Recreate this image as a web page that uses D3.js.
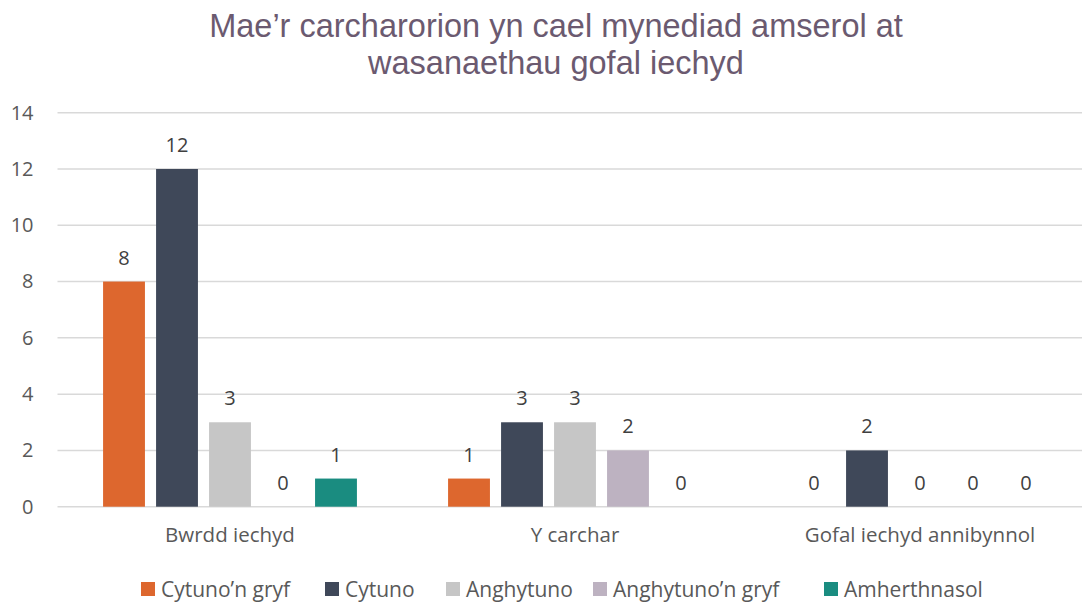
<!DOCTYPE html>
<html>
<head>
<meta charset="utf-8">
<script src="https://cdn.jsdelivr.net/npm/d3@7"></script>
<style>
    body { margin: 0; background: #fff; }
    text { font-family: "Open Sans", sans-serif; }
</style>
</head>
<body>
<svg class="chart"></svg>
<script>
var categories = ["Bwrdd iechyd", "Y carchar", "Gofal iechyd annibynnol"];
var seriesNames = ["Cytuno\u2019n gryf", "Cytuno", "Anghytuno", "Anghytuno\u2019n gryf", "Amherthnasol"];
var seriesColors = ["#dd672e", "#3f4859", "#c6c6c6", "#bdb2c1", "#1a8c80"];
var cytunoGryf = [8, 1, 0];
var cytuno = [12, 3, 2];
var anghytuno = [3, 3, 0];
var anghytunoGryf = [0, 2, 0];
var amherthnasol = [1, 0, 0];
var yTicks = [0, 2, 4, 6, 8, 10, 12, 14];
var titleLines = ["Mae\u2019r carcharorion yn cael mynediad amserol at", "wasanaethau gofal iechyd"];

function show() {
    'use strict';

    var W = 1082, H = 604;
    var margin = {top: 112.7, left: 57.5},
        width = 1035,
        height = 394;

    var svg = d3.select(".chart").attr("width", W).attr("height", H);

    var values = [cytunoGryf, cytuno, anghytuno, anghytunoGryf, amherthnasol];
    // rows per category, one value for each series
    var data = categories.map(function(c, i) {
        return {cat: c, vals: values.map(function(s, j) { return {s: j, v: s[i]}; })};
    });

    var chart = svg.append("g")
        .attr("transform", "translate(" + margin.left + "," + margin.top + ")");

    var x0 = d3.scaleBand().domain(categories).range([0, width]);
    var x1 = d3.scaleBand().domain(d3.range(seriesNames.length))
        .range([0, x0.bandwidth()]).paddingInner(0.21).paddingOuter(0.86);
    var y = d3.scaleLinear().domain([0, 14]).range([height, 0]);

    // gridlines
    chart.selectAll(".grid").data(yTicks).enter().append("line")
        .attr("x1", 0).attr("x2", width)
        .attr("y1", function(d) { return y(d); })
        .attr("y2", function(d) { return y(d); })
        .attr("stroke", "#d9d9d9").attr("stroke-width", 1.5);

    // y axis labels
    var yAxis = d3.axisLeft(y).tickValues(yTicks).tickSize(0).tickPadding(24);
    chart.append("g").call(yAxis)
        .call(function(g) { g.select(".domain").remove(); })
        .selectAll("text")
        .attr("fill", "#595959").style("font-size", "20px")
        .style("font-family", "'Open Sans', sans-serif");

    var groups = chart.selectAll(".grp").data(data).enter().append("g")
        .attr("transform", function(d) { return "translate(" + x0(d.cat) + ",0)"; });

    groups.selectAll("rect").data(function(d) { return d.vals; }).enter().append("rect")
        .attr("x", function(d) { return x1(d.s); })
        .attr("width", x1.bandwidth())
        .attr("y", function(d) { return y(d.v); })
        .attr("height", function(d) { return height - y(d.v); })
        .attr("fill", function(d) { return seriesColors[d.s]; });

    groups.selectAll(".lbl").data(function(d) { return d.vals; }).enter().append("text")
        .attr("x", function(d) { return x1(d.s) + x1.bandwidth() / 2; })
        .attr("y", function(d) { return y(d.v) - 17; })
        .attr("text-anchor", "middle")
        .attr("fill", "#404040").style("font-size", "20px")
        .text(function(d) { return d.v; });

    // category axis
    var xAxis = d3.axisBottom(x0).tickSize(0).tickPadding(21);
    chart.append("g").attr("transform", "translate(0," + height + ")").call(xAxis)
        .call(function(g) { g.select(".domain").remove(); })
        .selectAll("text")
        .attr("fill", "#595959").style("font-size", "20.5px")
        .style("font-family", "'Open Sans', sans-serif");

    // title
    svg.append("g").selectAll("text").data(titleLines).enter().append("text")
        .attr("x", 556)
        .attr("y", function(d, i) { return 37 + i * 37; })
        .attr("text-anchor", "middle")
        .attr("fill", "#6b5a70")
        .style("font-family", "'Liberation Sans Narrow', sans-serif")
        .style("font-size", "32.5px")
        .text(function(d) { return d; });

    // legend
    var legendX = [141, 325, 446, 593, 824];
    var legend = svg.append("g").selectAll("g").data(seriesNames).enter().append("g")
        .attr("transform", function(d, i) { return "translate(" + legendX[i] + ",582)"; });
    legend.append("rect").attr("width", 14).attr("height", 14)
        .attr("fill", function(d, i) { return seriesColors[i]; });
    legend.append("text").attr("x", 20).attr("y", 14.5)
        .attr("fill", "#595959").style("font-size", "21px")
        .text(function(d) { return d; });
}
show();
</script>
</body>
</html>
